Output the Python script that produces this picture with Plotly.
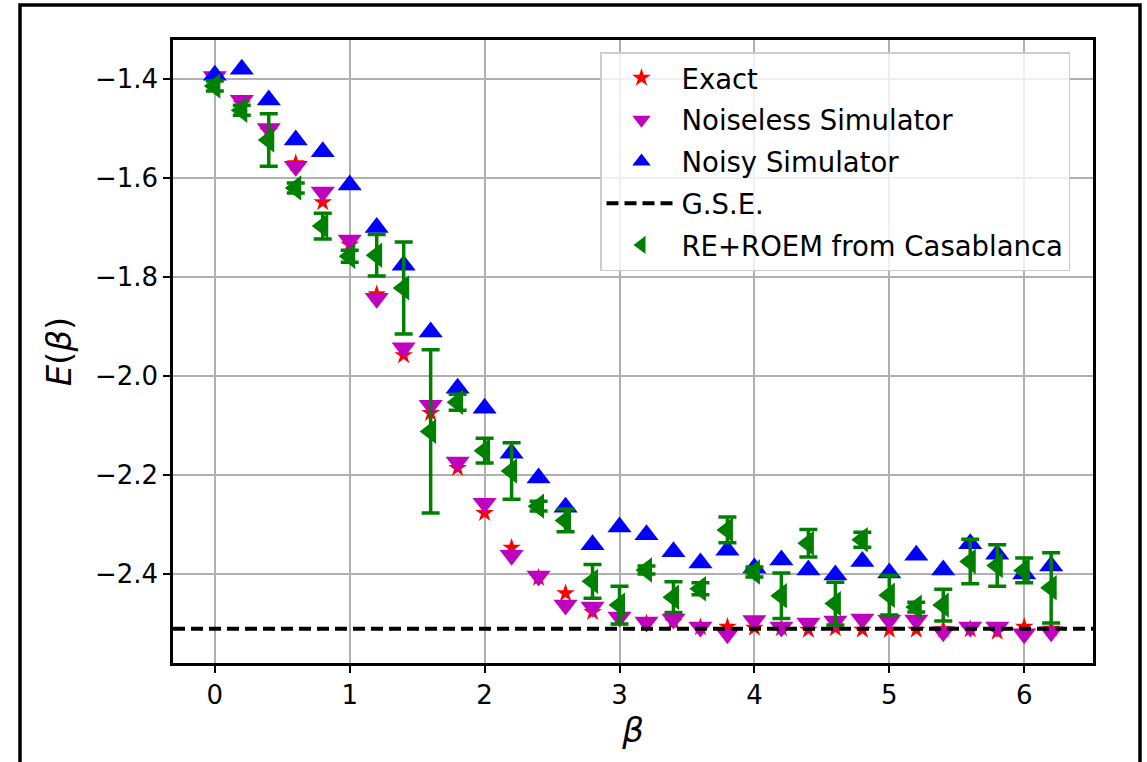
import plotly.graph_objects as go

beta = [round(0.2 * i, 1) for i in range(32)]

exact = [-1.395, -1.45, -1.505, -1.57, -1.649, -1.735, -1.835, -1.958, -2.075, -2.186,
         -2.277, -2.347, -2.408, -2.439, -2.477, -2.49, -2.50, -2.497, -2.508, -2.507,
         -2.509, -2.51, -2.513, -2.51, -2.513, -2.513, -2.513, -2.512, -2.512, -2.517,
         -2.507, -2.511]

noiseless = [-1.395, -1.443, -1.50, -1.576, -1.628, -1.725, -1.843, -1.943, -2.059, -2.174,
             -2.257, -2.362, -2.404, -2.463, -2.467, -2.487, -2.497, -2.491, -2.507, -2.521,
             -2.494, -2.507, -2.499, -2.495, -2.491, -2.493, -2.493, -2.517, -2.507, -2.507,
             -2.521, -2.517]

noisy = [-1.392, -1.38, -1.442, -1.523, -1.547, -1.614, -1.70, -1.776, -1.911, -2.025,
         -2.065, -2.156, -2.206, -2.265, -2.341, -2.305, -2.321, -2.355, -2.378, -2.352,
         -2.388, -2.372, -2.392, -2.402, -2.375, -2.398, -2.362, -2.392, -2.339, -2.36,
         -2.40, -2.384]

casablanca = [-1.414, -1.463, -1.523, -1.62, -1.697, -1.758, -1.756, -1.822, -2.112, -2.053,
              -2.151, -2.192, -2.263, -2.292, -2.415, -2.463, -2.392, -2.447, -2.43, -2.311,
              -2.396, -2.444, -2.338, -2.46, -2.331, -2.443, -2.467, -2.463, -2.375, -2.383,
              -2.393, -2.428]

casablanca_err = [0.01, 0.01, 0.053, 0.01, 0.026, 0.012, 0.042, 0.093, 0.165, 0.016,
                  0.025, 0.057, 0.01, 0.023, 0.034, 0.038, 0.008, 0.031, 0.012, 0.026,
                  0.01, 0.046, 0.028, 0.043, 0.015, 0.04, 0.01, 0.032, 0.045, 0.042,
                  0.025, 0.071]

gse = -2.511

x_range = [-0.31, 6.51]
y_range = [-2.580, -1.321]
x_ticks = [0, 1, 2, 3, 4, 5, 6]
y_ticks = [-2.4, -2.2, -2.0, -1.8, -1.6, -1.4]
y_tick_text = ["\u22122.4", "\u22122.2", "\u22122.0", "\u22121.8", "\u22121.6", "\u22121.4"]

FONT = "DejaVu Sans"

fig = go.Figure()

fig.add_trace(go.Scatter(
    x=beta, y=exact, mode="markers", name="Exact", legendgroup="a",
    marker=dict(symbol="star", size=14, color="#ff0000", line=dict(width=0)),
))
fig.add_trace(go.Scatter(
    x=beta, y=noiseless, mode="markers", name="Noiseless Simulator", legendgroup="b",
    marker=dict(symbol="triangle-down", size=21, color="#bf00bf", line=dict(width=0)),
))
fig.add_trace(go.Scatter(
    x=beta, y=noisy, mode="markers", name="Noisy Simulator", legendgroup="c",
    marker=dict(symbol="triangle-up", size=21, color="#0000ff", line=dict(width=0)),
))
fig.add_trace(go.Scatter(
    x=x_range, y=[gse, gse], mode="lines", name="G.S.E.", legendgroup="d",
    line=dict(color="black", width=4, dash="12px,6px"),
))
fig.add_trace(go.Scatter(
    x=beta, y=casablanca, mode="markers", name="RE+ROEM from Casablanca", legendgroup="e",
    marker=dict(symbol="triangle-left", size=22, color="#008000", line=dict(width=0)),
    error_y=dict(type="data", array=casablanca_err, visible=True,
                 color="#008000", thickness=3.5, width=9),
))

axis_common = dict(
    showgrid=True, gridcolor="#b0b0b0", gridwidth=2,
    showline=True, linecolor="black", linewidth=2.5, mirror=True,
    ticks="outside", ticklen=7, tickwidth=2, tickcolor="black",
    zeroline=False,
    tickfont=dict(family=FONT, size=26, color="black"),
)

fig.update_xaxes(range=x_range, tickvals=x_ticks, **axis_common,
                 title=dict(text="<i>\u03b2</i>", font=dict(family=FONT, size=34, color="black"),
                            standoff=8))
fig.update_yaxes(range=y_range, tickvals=y_ticks, ticktext=y_tick_text, **axis_common,
                 title=dict(text="<i>E</i>(<i>\u03b2</i>)", font=dict(family=FONT, size=34, color="black"),
                            standoff=14))

L, R, T, B = 173, 54, 40, 99
W, H = 1147, 762
pw, ph = W - L - R, H - T - B

def px_to_paper_x(px):
    return (px - L) / pw

def px_to_paper_y(py):
    return (H - B - py) / ph

fig.add_shape(type="path", xref="paper", yref="paper",
              path="M {x0},{y0} L {x0},{y1} L {x2},{y1} L {x2},{y0}".format(
                  x0=px_to_paper_x(20), y0=px_to_paper_y(800),
                  y1=px_to_paper_y(5), x2=px_to_paper_x(1140)),
              line=dict(color="black", width=3.5), layer="above")

fig.update_layout(
    width=W, height=H,
    margin=dict(l=L, r=R, t=T, b=B),
    paper_bgcolor="white", plot_bgcolor="white",
    font=dict(family=FONT, size=26, color="black"),
    showlegend=True,
    legend=dict(
        x=px_to_paper_x(600), y=px_to_paper_y(52), xanchor="left", yanchor="top",
        bgcolor="rgba(255,255,255,0.8)", bordercolor="#cccccc", borderwidth=1.5,
        font=dict(family=FONT, size=27.5, color="black"),
        itemsizing="trace", tracegroupgap=3, traceorder="grouped",
        itemwidth=70,
    ),
)

fig.write_html("out.html")
